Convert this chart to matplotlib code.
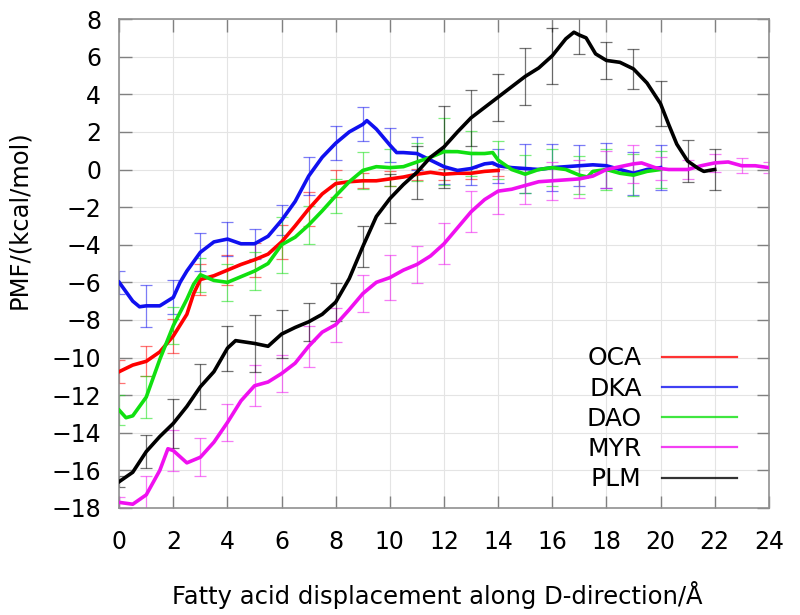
#!/usr/bin/env python3

import numpy as np
from matplotlib import pyplot as plt

# PMF curves (x in Å, y in kcal/mol)
oca_x = [0, 0.5, 1, 1.5, 2, 2.5, 2.75, 3, 3.5, 4, 4.5, 5, 5.5, 6, 6.5, 7, 7.5,
         8, 8.5, 9, 9.5, 10, 10.5, 11, 11.5, 12, 12.5, 13, 13.5, 14]
oca_y = [-10.75, -10.4, -10.2, -9.7, -8.85, -7.7, -6.6, -5.85, -5.65, -5.35,
         -5.05, -4.8, -4.5, -3.85, -3.0, -2.1, -1.3, -0.75, -0.65, -0.6, -0.6,
         -0.5, -0.4, -0.25, -0.15, -0.25, -0.2, -0.2, -0.1, -0.05]
oca_err = [0.6, 0.8, 0.9, 0.8, 0.8, 0.9, 0.9, 0.9, 0.7, 0.4, 0.4, 0.3, 0.3,
           0.3, 0.3]

dka_x = [0, 0.25, 0.5, 0.75, 1, 1.5, 2, 2.25, 2.5, 3, 3.5, 4, 4.5, 5, 5.5, 6,
         6.5, 7, 7.5, 8, 8.5, 9, 9.15, 9.5, 10, 10.25, 10.5, 11, 11.5, 12,
         12.5, 13, 13.5, 13.8, 14, 14.5, 15, 15.5, 16, 16.5, 17, 17.5, 18,
         18.5, 19, 19.5, 20]
dka_y = [-6.0, -6.5, -7.0, -7.3, -7.25, -7.25, -6.8, -6.0, -5.4, -4.4, -3.85,
         -3.7, -3.95, -3.95, -3.55, -2.7, -1.7, -0.35, 0.65, 1.4, 2.0, 2.4,
         2.6, 2.15, 1.3, 0.9, 0.9, 0.85, 0.5, 0.15, -0.05, 0.05, 0.3, 0.35,
         0.2, 0.1, 0.05, 0.0, 0.1, 0.15, 0.2, 0.25, 0.2, 0.0, -0.2, 0.0, 0.1]
dka_err = [0.6, 1.1, 0.9, 1.0, 0.9, 0.8, 0.8, 1.0, 0.9, 0.9, 0.9, 0.9, 0.9,
           0.9, 0.9, 1.3, 1.25, 1.1, 1.2, 1.15, 1.2]

dao_x = [0, 0.25, 0.5, 1, 1.5, 2, 2.5, 2.75, 3, 3.5, 4, 4.5, 5, 5.5, 6, 6.5,
         7, 7.5, 8, 8.5, 9, 9.5, 10, 10.5, 11, 11.5, 12, 12.5, 13, 13.5, 13.8,
         14, 14.5, 15, 15.5, 16, 16.5, 17, 17.3, 17.5, 18, 18.5, 19, 19.5, 20]
dao_y = [-12.8, -13.2, -13.1, -12.1, -10.1, -8.3, -6.9, -6.1, -5.6, -5.9,
         -6.0, -5.7, -5.4, -5.0, -4.0, -3.6, -2.95, -2.2, -1.4, -0.65, -0.05,
         0.15, 0.1, 0.15, 0.4, 0.65, 0.95, 0.95, 0.85, 0.85, 0.9, 0.5, 0.0,
         -0.25, 0.0, 0.1, 0.0, -0.3, -0.4, -0.1, 0.0, -0.2, -0.3, -0.1, 0.0]
dao_err = [0.8, 1.1, 1.0, 0.9, 1.0, 1.0, 1.5, 1.0, 0.9, 1.0, 1.0, 1.0, 1.8,
           1.2, 1.0, 1.0, 1.0, 1.0, 1.1, 1.1, 1.0]

myr_x = [0, 0.5, 1, 1.5, 1.8, 2, 2.5, 3, 3.5, 4, 4.5, 5, 5.5, 6, 6.5, 7, 7.5,
         8, 8.5, 9, 9.5, 10, 10.5, 11, 11.5, 12, 12.5, 13, 13.5, 14, 14.5, 15,
         15.5, 16, 16.5, 17, 17.5, 18, 18.5, 19, 19.3, 19.8, 20, 20.3, 21,
         21.5, 22, 22.5, 23, 23.5, 24]
myr_y = [-17.7, -17.8, -17.3, -16.0, -14.85, -14.95, -15.6, -15.3, -14.5,
         -13.45, -12.3, -11.5, -11.3, -10.85, -10.3, -9.4, -8.65, -8.25,
         -7.45, -6.6, -6.0, -5.75, -5.35, -5.05, -4.6, -3.95, -3.1, -2.25,
         -1.6, -1.15, -1.05, -0.85, -0.65, -0.6, -0.55, -0.5, -0.35, 0.0, 0.15,
         0.3, 0.35, 0.1, 0.05, 0.0, 0.0, 0.2, 0.35, 0.4, 0.2, 0.2, 0.1]
myr_err = [0.3, 1.0, 1.1, 1.0, 1.0, 1.1, 1.0, 1.1, 0.9, 1.0, 1.2, 1.0, 1.1,
           1.1, 1.2, 1.0, 1.0, 1.0, 1.0, 1.0, 0.6, 0.5, 0.5, 0.4, 0.3]

plm_x = [0, 0.5, 1, 1.5, 2, 2.5, 3, 3.5, 4, 4.3, 5, 5.5, 6, 6.5, 7, 7.5, 8,
         8.5, 9, 9.5, 10, 10.5, 11, 11.5, 12, 12.5, 13, 13.5, 14, 14.5, 15,
         15.5, 16, 16.5, 16.8, 17, 17.25, 17.6, 18, 18.5, 19, 19.5, 20, 20.3,
         20.6, 21, 21.4, 21.6, 22]
plm_y = [-16.6, -16.1, -15.0, -14.2, -13.5, -12.6, -11.55, -10.75, -9.5, -9.1,
         -9.25, -9.4, -8.75, -8.4, -8.1, -7.7, -7.05, -5.8, -4.1, -2.5, -1.55,
         -0.8, -0.15, 0.65, 1.2, 2.0, 2.75, 3.3, 3.85, 4.4, 4.95, 5.4, 6.05,
         6.95, 7.3, 7.15, 7.0, 6.15, 5.8, 5.7, 5.35, 4.6, 3.5, 2.4, 1.35, 0.45,
         0.05, -0.1, 0.0]
plm_err = [0.3, 0.9, 1.3, 1.2, 1.2, 1.5, 1.3, 1.0, 1.0, 1.1, 1.3, 1.4, 2.2,
           1.5, 1.25, 1.5, 1.5, 1.0, 1.0, 1.05, 1.2, 1.1, 1.1]

names = ['OCA', 'DKA', 'DAO', 'MYR', 'PLM']
colors = ['#ff0000', '#1010f0', '#10e010', '#f010f0', '#000000']


def main() -> None:
    fig = plt.figure(figsize=(8, 6.15), dpi=100)
    ax = fig.add_axes([0.149, 0.174, 0.812, 0.795])

    series = [
        (oca_x, oca_y, oca_err),
        (dka_x, dka_y, dka_err),
        (dao_x, dao_y, dao_err),
        (myr_x, myr_y, myr_err),
        (plm_x, plm_y, plm_err),
    ]

    for (xs, ys, err), name, c in zip(series, names, colors):
        xs = np.array(xs)
        ys = np.array(ys)
        # error bars sit on the integer positions of the curve
        on_int = np.isclose(xs % 1, 0)
        ax.errorbar(xs[on_int], ys[on_int], yerr=err, fmt='none',
                    ecolor=c, elinewidth=0.9, capsize=4, capthick=0.9,
                    alpha=0.55, zorder=2)
        ax.plot(xs, ys, color=c, lw=2.6, zorder=3)
        ax.plot([], [], color=c, lw=1.6, alpha=0.8, label=name)

    ax.set_xlim(0, 24)
    ax.set_ylim(-18, 8)
    ax.set_xticks(np.arange(0, 25, 2))
    ax.set_yticks(np.arange(-18, 9, 2))
    ax.grid(True, color='#e4e4e4', lw=0.8)
    ax.set_axisbelow(True)
    ax.tick_params(direction='in', length=9, width=1, color='#808080',
                   top=True, right=True, labelsize=17)
    ax.tick_params(axis='x', pad=16)
    ax.tick_params(axis='y', pad=13)
    for s in ax.spines.values():
        s.set_color('#909090')
        s.set_linewidth(1.2)

    ax.set_xlabel('Fatty acid displacement along D-direction/Å', fontsize=17.5)
    ax.set_ylabel('PMF/(kcal/mol)', fontsize=17.5)
    ax.xaxis.set_label_coords(0.49, -0.15)
    ax.yaxis.set_label_coords(-0.135, 0.589)

    ax.legend(loc='lower right', bbox_to_anchor=(0.985, -0.012), frameon=False,
              markerfirst=False, fontsize=18, handlelength=3.0,
              handletextpad=0.8, labelspacing=0.25)

    fig.savefig('out.png', dpi=100)


if __name__ == '__main__':
    main()
